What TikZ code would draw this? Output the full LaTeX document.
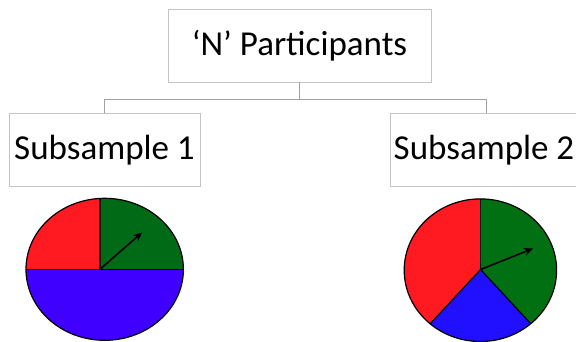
\documentclass[tikz,border=0pt]{standalone}
\usepackage{fontspec}
\setmainfont{Carlito}
\usetikzlibrary{arrows.meta,calc}
\definecolor{boxline}{HTML}{C4C4C4}
\definecolor{linkline}{HTML}{A0A0A0}
\definecolor{pred}{HTML}{FF1A22}
\definecolor{pgreenA}{HTML}{006A16}
\definecolor{pgreenB}{HTML}{007012}
\definecolor{pblueA}{HTML}{4000FF}
\definecolor{pblueB}{HTML}{2010FF}
\tikzset{
  labelbox/.style={draw=boxline, line width=0.9pt, fill=white, inner sep=0pt,
    font=\fontsize{35}{40}\selectfont, text=black},
  labeltext/.style={inner sep=0pt, font=\fontsize{35}{40}\selectfont, text=black},
  link/.style={draw=linkline, line width=0.9pt},
  rim/.style={draw=black, line width=1.2pt},
  spoke/.style={draw=black, line width=1.2pt},
  pointer/.style={draw=black, line width=1.6pt, -{Stealth[length=9pt,width=8pt]}}
}
\begin{document}
\begin{tikzpicture}[x=1pt,y=-1pt]
\useasboundingbox (0,0) rectangle (576,342);
\fill[white] (0,0) rectangle (576,342);

% boxes
\node[labelbox, minimum width=263pt, minimum height=73pt] (top) at (299.5,45.5) {‘N’ Participants};
\node[labelbox, minimum width=191pt, minimum height=73.4pt] (subA) at (104.5,150) {Subsample 1};
\node[labelbox, minimum width=191pt, minimum height=73.4pt] (subB) at (486.2,150) {};
\node[labeltext, anchor=west] (subBtext) at (393.5,150) {Subsample 2};

% tree connectors
\coordinate (fork) at (top.south |- 0,99);
\draw[link] (top.south) -- (fork);
\draw[link] (fork -| subA.north) -- (fork -| subB.north);
\draw[link] (fork -| subA.north) -- (subA.north);
\draw[link] (fork -| subB.north) -- (subB.north);

% first pie: quarter red, quarter green, half blue
\coordinate (hubA) at (100,269.3);
\begin{scope}
  \clip (104.7,269.3) ellipse [x radius=78.7, y radius=71];
  \fill[pblueA] (0,269.3) rectangle (200,345);
  \fill[pred] (0,180) rectangle (100,269.3);
  \fill[pgreenA] (100,180) rectangle (200,269.3);
\end{scope}
\draw[spoke] (26,269.3) -- (183.4,269.3);
\draw[spoke] (hubA) -- (100,198.4);
\draw[rim] (104.7,269.3) ellipse [x radius=78.7, y radius=71];
\coordinate (tipA) at (142,232.5);
\draw[pointer] (hubA) -- (tipA);

% second pie: three slices
\coordinate (hubB) at (480.6,269.5);
\begin{scope}
  \clip (480.4,270.2) ellipse [x radius=76.2, y radius=71.3];
  \fill[pgreenB] (hubB) -- (480.6,150) -- (640,150) -- (640,440) -- (633,432) -- cycle;
  \fill[pred] (hubB) -- (480.6,150) -- (320,150) -- (320,440) -- (328,432) -- cycle;
  \fill[pblueB] (hubB) -- (633,432) -- (328,432) -- cycle;
\end{scope}
\begin{scope}
  \clip (480.4,270.2) ellipse [x radius=76.2, y radius=71.3];
  \draw[spoke] (hubB) -- (480.6,190);
  \draw[spoke] (hubB) -- ($(hubB)!3!(531,324)$);
  \draw[spoke] (hubB) -- ($(hubB)!3!(430,324)$);
\end{scope}
\draw[rim] (480.4,270.2) ellipse [x radius=76.2, y radius=71.3];
\coordinate (tipB) at (533,248.5);
\draw[pointer] (hubB) -- (tipB);
\end{tikzpicture}
\end{document}
